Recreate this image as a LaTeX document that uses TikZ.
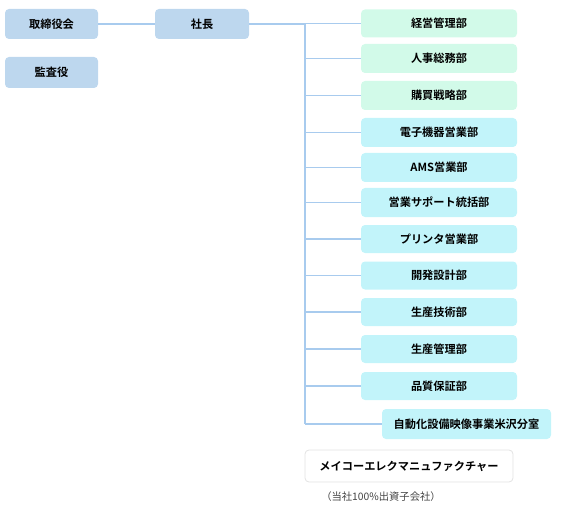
\documentclass[tikz,border=0pt]{standalone}
\usepackage{fontspec}
\setmainfont{Noto Sans CJK JP}
\newfontfamily\jpbold{Noto Sans CJK JP Bold}
\definecolor{topblue}{HTML}{BDD7EE}
\definecolor{deptgreen}{HTML}{D2FAE9}
\definecolor{deptcyan}{HTML}{C2F4FA}
\definecolor{linkblue}{HTML}{A8CBEE}
\definecolor{greyedge}{HTML}{E2E2E2}
\definecolor{notegrey}{HTML}{444444}
\tikzset{
  base/.style={rounded corners=4pt, inner sep=0pt, font=\jpbold\fontsize{11.2}{13}\selectfont, text=black},
  topbox/.style={base, fill=topblue, minimum width=93pt, minimum height=30pt},
  greenbox/.style={base, fill=deptgreen, minimum width=156pt, minimum height=28pt},
  cyanbox/.style={base, fill=deptcyan, minimum width=156pt, minimum height=28pt},
  link/.style={draw=linkblue, line width=1.4pt},
  trunk/.style={draw=linkblue, line width=2pt},
}
\begin{document}
\begin{tikzpicture}[x=1pt, y=-1pt]
\useasboundingbox (0,0) rectangle (568,516);
\node[topbox] (board) at (51.5,24) {取締役会};
\node[topbox, minimum height=31pt] (audit) at (51.5,72.5) {監査役};
\node[topbox, minimum width=94pt] (pres) at (202,24) {社長};

\node[greenbox] (d1) at (439,23.5) {経営管理部};
\node[greenbox, minimum height=29pt] (d2) at (439,58.5) {人事総務部};
\node[greenbox, minimum height=29pt] (d3) at (439,95.5) {購買戦略部};
\node[cyanbox, minimum height=29pt] (d4) at (439,132.5) {電子機器営業部};
\node[cyanbox, minimum height=29pt] (d5) at (439,167.5) {AMS営業部};
\node[cyanbox, minimum height=29pt] (d6) at (439,202.5) {営業サポート統括部};
\node[cyanbox] (d7) at (439,239) {プリンタ営業部};
\node[cyanbox] (d8) at (439,275.5) {開発設計部};
\node[cyanbox] (d9) at (439,312) {生産技術部};
\node[cyanbox] (d10) at (439,349) {生産管理部};
\node[cyanbox] (d11) at (439,386) {品質保証部};
\node[cyanbox, minimum width=169pt, minimum height=30pt] (d12) at (466.5,424) {自動化設備映像事業米沢分室};

\node[base, fill=white, draw=greyedge, line width=0.8pt, minimum width=208pt, minimum height=32pt] (sub) at (409,466) {メイコーエレクマニュファクチャー};
\node[font=\fontsize{10.3}{12}\selectfont, text=notegrey, inner sep=0pt] (note) at (381,497) {（当社100\%出資子会社）};

\coordinate (ttop) at (305,24);
\coordinate (tbot) at (305,424);

\draw[link] (board.east) -- (pres.west);
\draw[link] (pres.east) -- (ttop);
\draw[trunk] (ttop) -- (tbot);
\foreach \d in {d1,d2,d3,d4,d5,d6,d7,d8,d9,d10,d11,d12}{
  \draw[link] (ttop |- \d.west) -- (\d.west);
}
\end{tikzpicture}
\end{document}
